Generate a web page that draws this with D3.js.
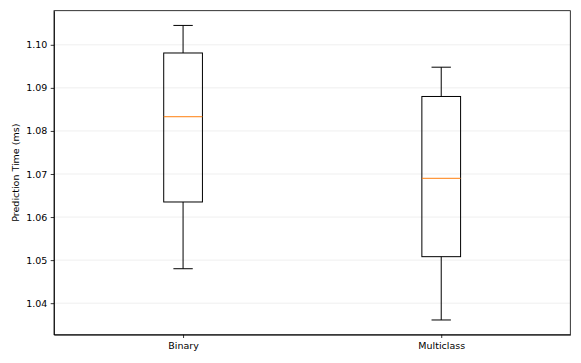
<!DOCTYPE html>
<html>
<head>
<meta charset="utf-8">
<script src="https://cdn.jsdelivr.net/npm/d3@7"></script>
<style>
  body { margin: 0; background: #fff; }
  svg { display: block; font-family: "DejaVu Sans", sans-serif; }
  .axis text { font-family: "DejaVu Sans", sans-serif; font-size: 9.5px; fill: #000; }
  .axis path, .axis line { stroke: #000; stroke-width: 0.8; }
</style>
</head>
<body>
<svg class="boxplot" width="581" height="363"></svg>
<script>
var categories = ["Binary", "Multiclass"];
var whiskerLow = [1.0480, 1.0361];
var q1 = [1.0635, 1.0508];
var median = [1.0833, 1.0690];
var q3 = [1.0981, 1.0880];
var whiskerHigh = [1.1045, 1.0948];
var yTicks = [1.04, 1.05, 1.06, 1.07, 1.08, 1.09, 1.10];

var svg = d3.select("svg.boxplot"),
    margin = {top: 10.7, right: 10.7, bottom: 28.3, left: 54},
    width = +svg.attr("width") - margin.left - margin.right,
    height = +svg.attr("height") - margin.top - margin.bottom,
    g = svg.append("g").attr("transform", "translate(" + margin.left + "," + margin.top + ")");

var boxes = categories.map(function (c, i) {
  return {name: c, pos: i + 1, lo: whiskerLow[i], q1: q1[i], med: median[i], q3: q3[i], hi: whiskerHigh[i]};
});

// matplotlib-like limits: positions 1..n with 0.5 padding, y with 5% margin
var x = d3.scaleLinear()
    .domain([0.5, categories.length + 0.5])
    .range([0, width]);

var yMin = d3.min(whiskerLow), yMax = d3.max(whiskerHigh), pad = (yMax - yMin) * 0.05;
var y = d3.scaleLinear()
    .domain([yMin - pad, yMax + pad])
    .range([height, 0]);

// grid
g.selectAll(".grid")
  .data(yTicks)
  .enter().append("line")
    .attr("class", "grid")
    .attr("x1", 0)
    .attr("x2", width)
    .attr("y1", function (d) { return y(d); })
    .attr("y2", function (d) { return y(d); })
    .attr("stroke", "#ebebeb")
    .attr("stroke-width", 0.8);

var boxW = x(1.15) - x(1);
var capW = boxW / 2;

var bx = g.selectAll(".box")
  .data(boxes)
  .enter().append("g")
    .attr("class", "box")
    .attr("transform", function (d) { return "translate(" + x(d.pos) + ",0)"; });

bx.append("line")
    .attr("x1", 0).attr("x2", 0)
    .attr("y1", function (d) { return y(d.q3); })
    .attr("y2", function (d) { return y(d.hi); })
    .attr("stroke", "#000").attr("stroke-width", 1);

bx.append("line")
    .attr("x1", 0).attr("x2", 0)
    .attr("y1", function (d) { return y(d.q1); })
    .attr("y2", function (d) { return y(d.lo); })
    .attr("stroke", "#000").attr("stroke-width", 1);

bx.append("line")
    .attr("x1", -capW / 2).attr("x2", capW / 2)
    .attr("y1", function (d) { return y(d.hi); })
    .attr("y2", function (d) { return y(d.hi); })
    .attr("stroke", "#000").attr("stroke-width", 1);

bx.append("line")
    .attr("x1", -capW / 2).attr("x2", capW / 2)
    .attr("y1", function (d) { return y(d.lo); })
    .attr("y2", function (d) { return y(d.lo); })
    .attr("stroke", "#000").attr("stroke-width", 1);

bx.append("rect")
    .attr("x", -boxW / 2)
    .attr("width", boxW)
    .attr("y", function (d) { return y(d.q3); })
    .attr("height", function (d) { return y(d.q1) - y(d.q3); })
    .attr("fill", "none")
    .attr("stroke", "#000").attr("stroke-width", 1);

bx.append("line")
    .attr("x1", -boxW / 2).attr("x2", boxW / 2)
    .attr("y1", function (d) { return y(d.med); })
    .attr("y2", function (d) { return y(d.med); })
    .attr("stroke", "#ff7f0e").attr("stroke-width", 1);

// axes
g.append("g")
    .attr("class", "axis axis--x")
    .attr("transform", "translate(0," + height + ")")
    .call(d3.axisBottom(x).tickValues(boxes.map(function (d) { return d.pos; }))
      .tickFormat(function (d) { return categories[d - 1]; })
      .tickSizeInner(3.3).tickSizeOuter(0).tickPadding(4.3));

g.append("g")
    .attr("class", "axis axis--y")
    .call(d3.axisLeft(y).tickValues(yTicks).tickFormat(d3.format(".2f"))
      .tickSizeInner(3.3).tickSizeOuter(0).tickPadding(3.3));

// frame
g.append("rect")
    .attr("width", width)
    .attr("height", height)
    .attr("fill", "none")
    .attr("stroke", "#000")
    .attr("stroke-width", 0.8);

g.append("text")
    .attr("text-anchor", "middle")
    .attr("transform", "rotate(-90)")
    .attr("x", -height / 2)
    .attr("y", -margin.left + 19)
    .style("font-size", "9.5px")
    .text("Prediction Time (ms)");
</script>
</body>
</html>
